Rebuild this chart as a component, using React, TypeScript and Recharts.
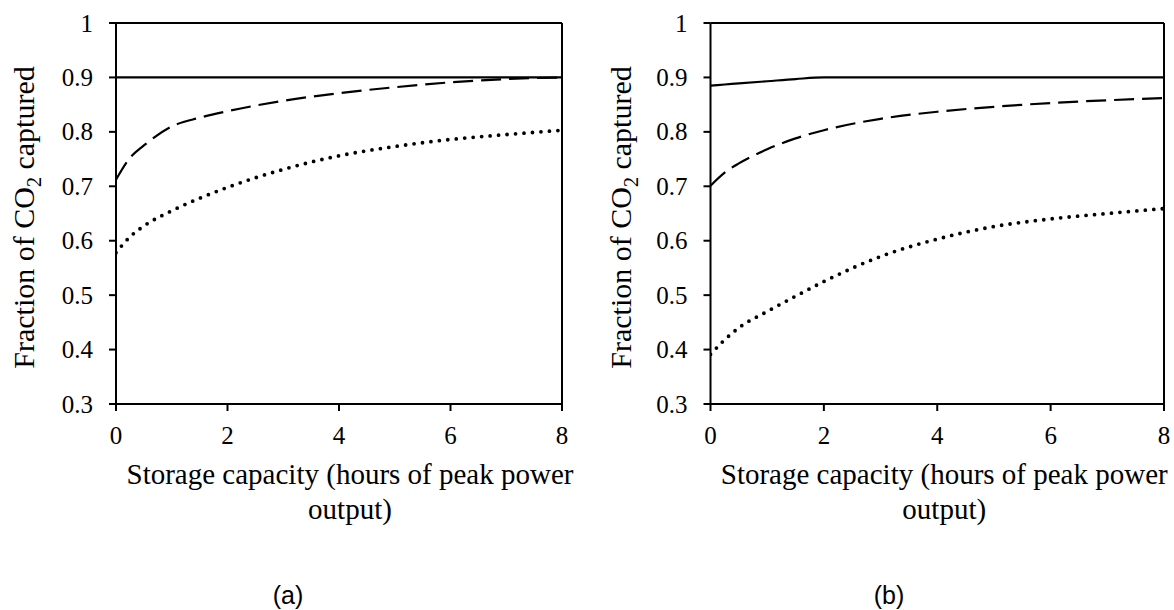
import React from "react";
import { LineChart, Line, XAxis, YAxis, ReferenceLine } from "recharts";

// ---- data ----
const xValues = [0, 0.25, 0.5, 1, 1.5, 2, 3, 4, 5, 6, 7, 8];

const solidA = [0.9, 0.9, 0.9, 0.9, 0.9, 0.9, 0.9, 0.9, 0.9, 0.9, 0.9, 0.9];
const dashedA = [0.712, 0.752, 0.775, 0.81, 0.826, 0.838, 0.857, 0.871, 0.882, 0.891, 0.897, 0.9];
const dottedA = [0.578, 0.607, 0.627, 0.655, 0.678, 0.698, 0.731, 0.756, 0.773, 0.786, 0.795, 0.803];

const solidB = [0.885, 0.887, 0.889, 0.893, 0.897, 0.9, 0.9, 0.9, 0.9, 0.9, 0.9, 0.9];
const dashedB = [0.701, 0.725, 0.742, 0.768, 0.788, 0.803, 0.824, 0.837, 0.846, 0.853, 0.858, 0.862];
const dottedB = [0.391, 0.418, 0.44, 0.47, 0.498, 0.525, 0.571, 0.603, 0.626, 0.64, 0.65, 0.659];

const xTicks = [0, 2, 4, 6, 8];
const yTicks = [0.3, 0.4, 0.5, 0.6, 0.7, 0.8, 0.9, 1];

const xTitleLine1 = "Storage capacity (hours of peak power";
const xTitleLine2 = "output)";
const panelLabels = ["(a)", "(b)"];

const build = (solid: number[], dashed: number[], dotted: number[]) =>
  xValues.map((x, i) => ({ x, solid: solid[i], dashed: dashed[i], dotted: dotted[i] }));

const dataA = build(solidA, dashedA, dottedA);
const dataB = build(solidB, dashedB, dottedB);

const SERIF = "'Liberation Serif', 'Times New Roman', serif";
const SANS = "'Liberation Sans', Arial, sans-serif";

const XTick = (props: any) => {
  const { x, y, payload } = props;
  return (
    <text x={x} y={y} dy={17} textAnchor="middle" fontFamily={SERIF} fontSize={25} fill="#000">
      {String(payload.value)}
    </text>
  );
};

const YTick = (props: any) => {
  const { x, y, payload } = props;
  return (
    <text x={x} y={y} dy={8.5} textAnchor="end" fontFamily={SERIF} fontSize={25} fill="#000">
      {String(payload.value)}
    </text>
  );
};

const YTitle = (props: any) => {
  const { viewBox, bx } = props;
  const cy = (viewBox?.y ?? 23) + (viewBox?.height ?? 381) / 2 + 4;
  return (
    <text
      x={bx}
      y={cy}
      transform={`rotate(-90 ${bx} ${cy})`}
      textAnchor="middle"
      fontFamily={SERIF}
      fontSize={30}
      fill="#000"
    >
      Fraction of CO
      <tspan dy={7} fontSize={20}>2</tspan>
      <tspan dy={-7}> captured</tspan>
    </text>
  );
};

const XTitle = (props: any) => {
  const { viewBox, shift, label, labelX } = props;
  const x0 = viewBox?.x ?? 0;
  const w = viewBox?.width ?? 446;
  const y0 = viewBox?.y ?? 404;
  const cx = x0 + w / 2 + shift;
  return (
    <g>
      <text x={cx} y={y0 + 80} textAnchor="middle" fontFamily={SERIF} fontSize={29} fill="#000">
        {xTitleLine1}
      </text>
      <text x={cx} y={y0 + 115} textAnchor="middle" fontFamily={SERIF} fontSize={29} fill="#000">
        {xTitleLine2}
      </text>
      <text x={labelX} y={y0 + 200} textAnchor="middle" fontFamily={SANS} fontSize={25} fill="#000">
        {label}
      </text>
    </g>
  );
};

function Panel(props: {
  data: any[];
  width: number;
  left: number;
  yAxisWidth: number;
  rightMargin: number;
  titleX: number;
  shift: number;
  label: string;
  labelX: number;
}) {
  const { data, width, left, yAxisWidth, rightMargin, titleX, shift, label, labelX } = props;
  return (
    <div style={{ position: "absolute", left, top: 0, width, height: 610 }}>
      <LineChart
        width={width}
        height={610}
        data={data}
        margin={{ top: 23, right: rightMargin, bottom: 0, left: 0 }}
      >
        <XAxis
          dataKey="x"
          type="number"
          domain={[0, 8]}
          ticks={xTicks}
          allowDataOverflow
          height={206}
          tickSize={7}
          tickMargin={16}
          tick={<XTick />}
          axisLine={{ stroke: "#000", strokeWidth: 2 }}
          tickLine={{ stroke: "#000", strokeWidth: 2 }}
          label={<XTitle shift={shift} label={label} labelX={labelX} />}
        />
        <YAxis
          type="number"
          domain={[0.3, 1]}
          ticks={yTicks}
          allowDataOverflow
          width={yAxisWidth}
          tickSize={7}
          tickMargin={16}
          tick={<YTick />}
          axisLine={{ stroke: "#000", strokeWidth: 2 }}
          tickLine={{ stroke: "#000", strokeWidth: 2 }}
          label={<YTitle bx={titleX} />}
        />
        <ReferenceLine y={1} stroke="#000" strokeWidth={2} />
        <ReferenceLine x={8} stroke="#000" strokeWidth={2} />
        <Line
          type="monotone"
          dataKey="dotted"
          stroke="#000"
          strokeWidth={3.8}
          strokeDasharray="0 8.5"
          strokeLinecap="round"
          dot={false}
          activeDot={false}
          isAnimationActive={false}
        />
        <Line
          type="monotone"
          dataKey="dashed"
          stroke="#000"
          strokeWidth={2.2}
          strokeDasharray="20 8"
          dot={false}
          activeDot={false}
          isAnimationActive={false}
        />
        <Line
          type="monotone"
          dataKey="solid"
          stroke="#000"
          strokeWidth={2.2}
          dot={false}
          activeDot={false}
          isAnimationActive={false}
        />
      </LineChart>
    </div>
  );
}

export default function App() {
  return (
    <div style={{ position: "absolute", left: 0, top: 0, width: 1174, height: 610, background: "#fff", overflow: "hidden" }}>
      <Panel
        data={dataA}
        width={590}
        left={0}
        yAxisWidth={116}
        rightMargin={28}
        titleX={34}
        shift={11}
        label={panelLabels[0]}
        labelX={288}
      />
      <Panel
        data={dataB}
        width={584}
        left={590}
        yAxisWidth={120.5}
        rightMargin={10}
        titleX={631 - 590}
        shift={7}
        label={panelLabels[1]}
        labelX={889 - 590}
      />
    </div>
  );
}
